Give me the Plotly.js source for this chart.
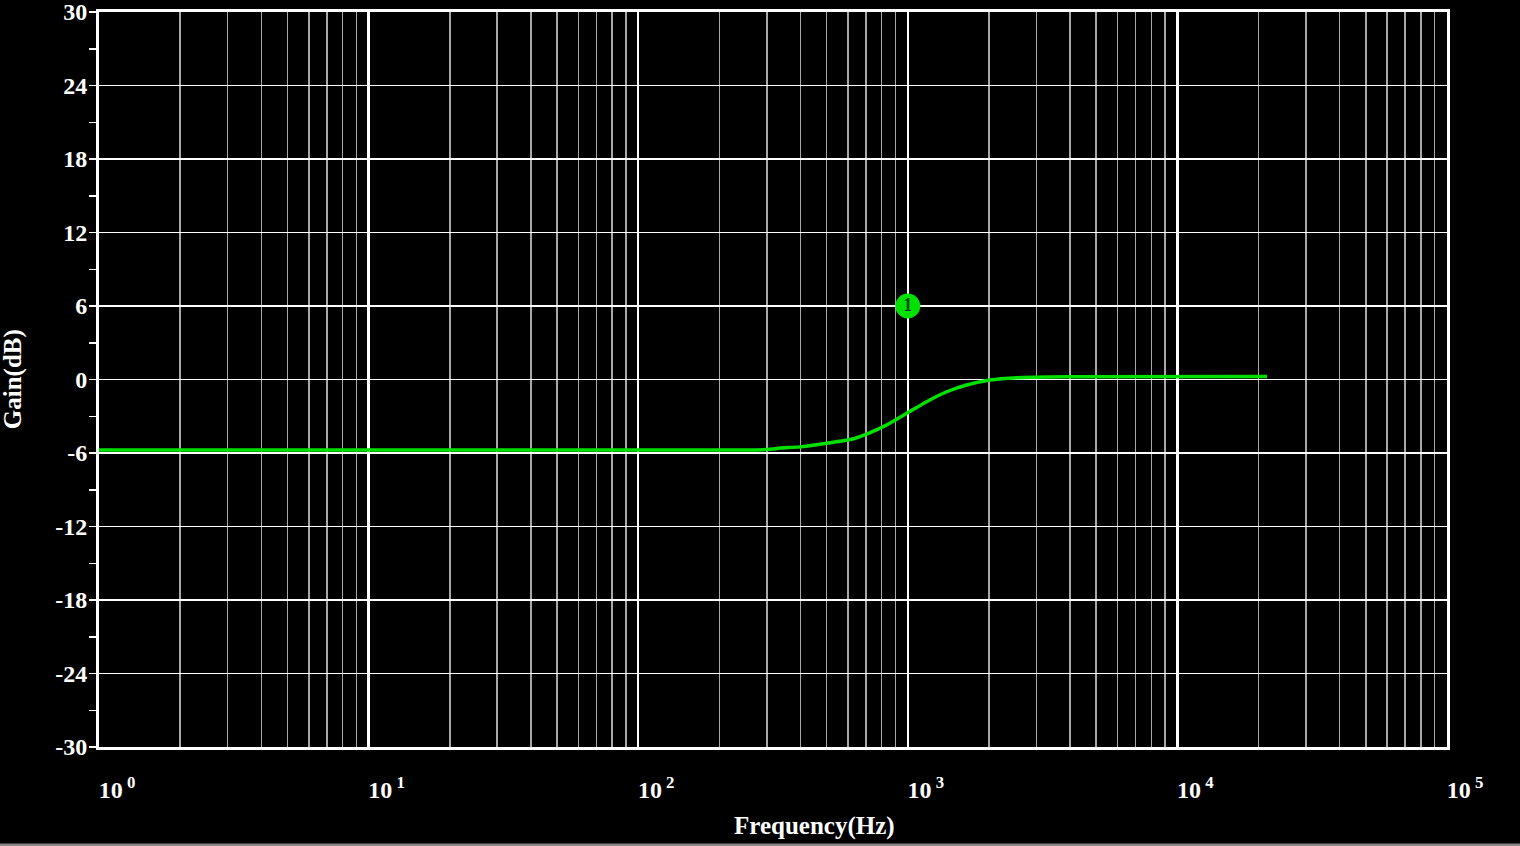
<!DOCTYPE html>
<html>
<head>
<meta charset="utf-8">
<script src="https://cdn.plot.ly/plotly-3.0.1.min.js"></script>
<style>
html,body{margin:0;padding:0;background:#000;}
#chart{width:1520px;height:846px;}
</style>
</head>
<body>
<div id="chart"></div>
<script>
// Frequency response (Hz, dB)
var freqHz = [1, 10, 100, 169, 300, 336, 398, 500, 611, 704, 836, 991, 1175, 1394, 1653, 2018, 2535, 3882, 21500];
var gainDb = [-5.76, -5.76, -5.76, -5.76, -5.72, -5.6, -5.5, -5.2, -4.9, -4.45, -3.7, -2.76, -1.81, -1.0, -0.45, -0.04, 0.15, 0.23, 0.25];

// Marker "1"
var markerFreq = [1000];
var markerGain = [6];
var markerLabel = ['1'];

// Axis ticks
var xTickVals = [1, 10, 100, 1000, 10000, 100000];
var xTickText = ['10<sup> 0</sup>', '10<sup> 1</sup>', '10<sup> 2</sup>', '10<sup> 3</sup>', '10<sup> 4</sup>', '10<sup> 5</sup>'];
var yTickVals = [-30, -24, -18, -12, -6, 0, 6, 12, 18, 24, 30];
var yTickText = ['-30', '-24', '-18', '-12', '-6', '0', '6', '12', '18', '24', '30'];

var xTitle = 'Frequency(Hz)';
var yTitle = 'Gain(dB)';

var green = 'rgb(0,225,0)';
var fontFam = '"Liberation Serif", "Times New Roman", serif';
var fsz = 24;
var tsz = 25;

var traces = [
  {
    x: freqHz, y: gainDb, type: 'scatter', mode: 'lines',
    line: {color: green, width: 3.5, shape: 'spline', smoothing: 0.6},
    hoverinfo: 'skip'
  },
  {
    x: markerFreq, y: markerGain, type: 'scatter', mode: 'markers+text',
    text: markerLabel, textposition: 'middle center',
    marker: {color: green, size: 25},
    textfont: {color: '#042', size: 18, family: fontFam, weight: 'bold'},
    hoverinfo: 'skip'
  }
];

var layout = {
  width: 1520, height: 846,
  paper_bgcolor: '#000', plot_bgcolor: '#000',
  margin: {l: 99, r: 73, t: 12, b: 99},
  showlegend: false,
  font: {family: fontFam, color: '#fff', size: fsz, weight: 'bold'},
  xaxis: {
    type: 'log', range: [0, 5],
    tickmode: 'array', tickvals: xTickVals, ticktext: xTickText,
    ticks: '', ticklabelstandoff: 19, ticklabelshift: 18,
    ticklabeloverflow: 'allow',
    tickfont: {family: fontFam, size: fsz, color: '#fff', weight: 'bold'},
    showgrid: true, gridcolor: '#fff', gridwidth: 2.5,
    minor: {dtick: 'D1', showgrid: true, gridcolor: '#a8a8a8', gridwidth: 1.5, ticks: ''},
    showline: true, mirror: true, linecolor: '#fff', linewidth: 3,
    zeroline: false,
    automargin: false
  },
  yaxis: {
    range: [-30, 30],
    tickmode: 'array', tickvals: yTickVals, ticktext: yTickText,
    ticks: '', ticklabelstandoff: 4,
    ticklabeloverflow: 'allow',
    tickfont: {family: fontFam, size: fsz, color: '#fff', weight: 'bold'},
    showgrid: true, gridcolor: '#fff', gridwidth: 1.8,
    minor: {dtick: 3, ticks: 'outside', ticklen: 7, tickcolor: '#fff', tickwidth: 1.5, showgrid: false},
    showline: true, mirror: true, linecolor: '#fff', linewidth: 3,
    zeroline: false,
    automargin: false
  },
  yaxis2: {
    overlaying: 'y', side: 'left', range: [-30, 30],
    tickmode: 'linear', tick0: 0, dtick: 6,
    ticks: '', showticklabels: false, showgrid: false, zeroline: false, showline: false,
    minor: {dtick: 3, ticks: 'inside', ticklen: 7, tickcolor: '#fff', tickwidth: 1.5, showgrid: false}
  },
  annotations: [
    {text: xTitle, xref: 'paper', yref: 'paper', x: 0.531, y: -0.1075, xanchor: 'center', yanchor: 'middle',
     showarrow: false, font: {family: fontFam, size: tsz, color: '#fff', weight: 'bold'}},
    {text: yTitle, xref: 'paper', yref: 'paper', x: -0.064, y: 0.5, xanchor: 'center', yanchor: 'middle',
     textangle: -90, showarrow: false, font: {family: fontFam, size: tsz, color: '#fff', weight: 'bold'}}
  ],
  shapes: [
    {type: 'line', xref: 'paper', yref: 'paper', x0: -0.08, x1: 1.06, y0: -0.1333, y1: -0.1333,
     line: {color: '#888', width: 3}}
  ]
};

Plotly.newPlot('chart', traces, layout, {displayModeBar: false, staticPlot: true});
</script>
</body>
</html>
